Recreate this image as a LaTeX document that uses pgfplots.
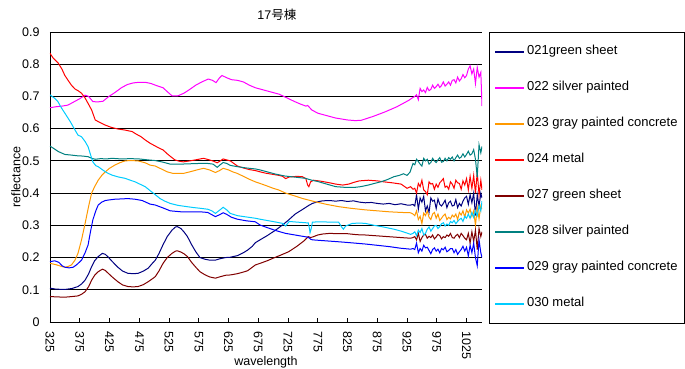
\documentclass[border=0pt]{standalone}
\usepackage{pgfplots}
\pgfplotsset{compat=1.18}
\usepackage{fontspec}
\setmainfont{Liberation Sans}
\newfontfamily\cjk{Noto Sans CJK JP}
\definecolor{cnavy}{RGB}{0,0,128}
\definecolor{cmag}{RGB}{255,0,255}
\definecolor{corange}{RGB}{255,153,0}
\definecolor{cred}{RGB}{255,0,0}
\definecolor{cdred}{RGB}{128,0,0}
\definecolor{cteal}{RGB}{0,128,128}
\definecolor{cblue}{RGB}{0,0,255}
\definecolor{ccyan}{RGB}{0,204,255}
\begin{document}
\begin{tikzpicture}
\useasboundingbox (0,0) rectangle (685pt,369pt);
\begin{axis}[
  at={(50pt,47pt)}, anchor=south west,
  scale only axis, width=432pt, height=290pt,
  xmin=325, xmax=1051, ymin=0, ymax=0.9,
  axis x line=bottom, axis y line=left,
  axis line style={-, black, line width=0.8pt},
  xtick={325,375,...,1025},
  ytick={0,0.1,0.2,0.3,0.4,0.5,0.6,0.7,0.8,0.9},
  tick align=inside,
  xtick style={black, line width=0.8pt},
  major tick length=4pt,
  ytick style={draw=none},
  ymajorgrids, grid style={black, line width=0.8pt},
  font=\fontsize{12.5}{15}\selectfont,
  /pgf/number format/assume math mode=true,
  yticklabel style={/pgf/number format/fixed, /pgf/number format/precision=1, xshift=-7pt},
  xticklabel style={rotate=-90, anchor=west, xshift=6pt, /pgf/number format/set thousands separator={}},
  title={17\cjk 号棟},
  every axis title/.style={at={(axis description cs:0.525,1.0586)}, anchor=center},
  xlabel={wavelength},
  every axis x label/.style={at={(axis description cs:0.5,-0.138)}, anchor=center},
  ylabel={reflectance},
  every axis y label/.style={at={(axis description cs:-0.0787,0.5)}, rotate=90, anchor=center},
  legend image code/.code={\draw[#1, line width=2pt, line cap=butt] (0pt,0pt) -- (29pt,0pt);},
  legend style={at={(axis description cs:1,1)}, anchor=north west, xshift=7pt, yshift=-0.5pt,
    draw=black, inner xsep=5pt, inner ysep=11.5pt,
    font=\fontsize{13}{15}\selectfont,
    cells={anchor=west}, row sep=21pt,
    nodes={inner sep=2pt, text height=8.5pt, text depth=2.5pt}},
]
% 021 green sheet
\addplot[cnavy, line width=1pt] table {
325 0.105
335 0.102
350 0.101
362 0.104
372 0.110
378 0.118
384 0.130
390 0.150
395 0.172
400 0.190
406 0.203
413 0.213
418 0.210
423 0.201
430 0.187
439 0.170
447 0.158
456 0.151
465 0.150
473 0.151
482 0.158
490 0.167
497 0.182
502 0.192
508 0.212
515 0.240
522 0.265
530 0.285
536 0.295
539 0.296
545 0.290
550 0.280
556 0.265
563 0.240
570 0.218
577 0.200
585 0.195
593 0.192
603 0.192
610 0.196
620 0.200
628 0.201
640 0.206
650 0.215
657 0.223
665 0.235
670 0.246
678 0.255
690 0.268
704 0.285
715 0.300
725 0.315
737 0.335
750 0.350
760 0.362
766 0.368
775 0.373
783 0.376
795 0.377
805 0.375
815 0.377
825 0.374
835 0.376
845 0.372
855 0.370
865 0.371
875 0.368
885 0.366
895 0.368
905 0.364
915 0.367
925 0.363
931 0.363
935 0.365
938 0.360
941 0.395
944 0.350
947 0.385
950 0.372
953 0.390
956 0.345
959 0.360
962 0.340
965 0.385
968 0.375
971 0.378
974 0.352
977 0.382
980 0.365
983 0.360
986 0.368
989 0.378
992 0.355
995 0.370
998 0.375
1001 0.360
1004 0.362
1007 0.380
1010 0.355
1013 0.368
1016 0.360
1019 0.375
1022 0.385
1025 0.390
1028 0.365
1031 0.395
1034 0.370
1037 0.400
1040 0.330
1043 0.395
1046 0.360
1049 0.400
1051 0.385
};
\addlegendentry{021green sheet}
% 022 silver painted
\addplot[cmag, line width=1pt] table {
325 0.665
335 0.668
345 0.670
355 0.673
365 0.683
375 0.693
384 0.704
390 0.700
397 0.684
405 0.683
414 0.685
424 0.700
434 0.712
445 0.727
455 0.737
465 0.742
475 0.744
485 0.744
495 0.740
505 0.733
515 0.727
522 0.715
530 0.702
540 0.702
550 0.710
560 0.722
570 0.735
580 0.745
591 0.754
598 0.750
604 0.743
610 0.758
614 0.765
622 0.758
630 0.752
640 0.750
650 0.745
660 0.735
670 0.727
680 0.722
690 0.717
700 0.712
710 0.707
718 0.700
725 0.694
735 0.685
745 0.677
755 0.670
758 0.672
760 0.668
765 0.658
775 0.648
785 0.643
795 0.638
805 0.633
815 0.630
825 0.627
838 0.625
848 0.626
858 0.632
868 0.638
878 0.645
888 0.652
898 0.660
908 0.668
918 0.678
928 0.688
935 0.697
938 0.700
941 0.705
944 0.690
947 0.725
950 0.715
953 0.720
956 0.712
959 0.728
962 0.718
965 0.722
968 0.735
971 0.725
974 0.730
977 0.738
980 0.728
983 0.734
986 0.745
989 0.732
992 0.738
995 0.745
998 0.735
1001 0.750
1004 0.752
1007 0.742
1010 0.760
1013 0.748
1016 0.755
1019 0.768
1022 0.758
1025 0.765
1028 0.785
1031 0.795
1034 0.770
1037 0.785
1040 0.740
1043 0.790
1046 0.760
1049 0.775
1051 0.670
};
\addlegendentry{022 silver painted}
% 023 gray painted concrete
\addplot[corange, line width=1pt] table {
325 0.182
335 0.178
345 0.172
350 0.170
355 0.172
361 0.177
367 0.192
372 0.213
378 0.255
384 0.306
390 0.360
395 0.400
400 0.420
406 0.440
412 0.455
418 0.466
425 0.477
434 0.487
442 0.494
451 0.500
460 0.501
473 0.500
485 0.494
493 0.487
502 0.484
512 0.475
522 0.466
532 0.461
549 0.461
560 0.466
572 0.472
583 0.477
593 0.472
603 0.464
610 0.470
616 0.477
625 0.472
632 0.466
640 0.461
650 0.452
660 0.443
670 0.435
678 0.430
690 0.422
700 0.415
709 0.410
721 0.400
735 0.392
750 0.383
771 0.373
790 0.365
810 0.358
830 0.353
855 0.348
875 0.345
895 0.342
915 0.340
931 0.339
935 0.335
938 0.330
941 0.345
944 0.318
947 0.328
950 0.305
953 0.338
956 0.330
959 0.345
962 0.325
965 0.318
968 0.335
971 0.340
974 0.322
977 0.335
980 0.315
983 0.322
986 0.330
989 0.335
992 0.318
995 0.325
998 0.320
1001 0.332
1004 0.326
1007 0.335
1010 0.318
1013 0.340
1016 0.332
1019 0.345
1022 0.325
1025 0.348
1028 0.338
1031 0.350
1034 0.328
1037 0.345
1040 0.300
1043 0.355
1046 0.320
1049 0.360
1051 0.350
};
\addlegendentry{023 gray painted concrete}
% 024 metal
\addplot[cred, line width=1pt] table {
325 0.834
330 0.820
339 0.803
345 0.785
350 0.765
355 0.751
361 0.735
367 0.723
372 0.718
378 0.710
384 0.695
390 0.675
395 0.658
401 0.627
408 0.620
418 0.611
428 0.604
439 0.599
450 0.596
463 0.591
470 0.583
478 0.575
485 0.565
493 0.555
502 0.546
508 0.540
515 0.534
522 0.522
530 0.510
535 0.503
542 0.499
549 0.497
560 0.500
572 0.504
583 0.508
593 0.503
600 0.499
606 0.494
611 0.500
616 0.506
622 0.503
628 0.500
634 0.492
640 0.484
650 0.478
660 0.473
670 0.470
678 0.466
687 0.462
700 0.458
710 0.455
716 0.452
721 0.445
727 0.450
740 0.452
749 0.451
755 0.445
758 0.425
760 0.420
763 0.435
768 0.440
780 0.437
795 0.432
805 0.428
817 0.425
827 0.428
835 0.433
845 0.438
860 0.440
875 0.438
886 0.435
900 0.432
915 0.428
925 0.415
931 0.420
935 0.412
938 0.415
941 0.400
944 0.430
947 0.420
950 0.440
953 0.410
956 0.405
959 0.395
962 0.435
965 0.428
968 0.430
971 0.412
974 0.428
977 0.418
980 0.432
983 0.438
986 0.445
989 0.418
992 0.422
995 0.412
998 0.435
1001 0.428
1004 0.415
1007 0.440
1010 0.432
1013 0.430
1016 0.412
1019 0.438
1022 0.425
1025 0.445
1028 0.410
1031 0.452
1034 0.415
1037 0.455
1040 0.400
1043 0.465
1046 0.395
1049 0.440
1051 0.410
};
\addlegendentry{024 metal}
% 027 green sheet
\addplot[cdred, line width=1pt] table {
325 0.079
335 0.078
350 0.077
362 0.079
372 0.081
378 0.086
384 0.094
390 0.110
395 0.130
400 0.145
406 0.156
413 0.164
418 0.160
423 0.151
430 0.139
439 0.125
447 0.115
456 0.110
465 0.109
473 0.110
482 0.116
490 0.125
497 0.134
502 0.141
508 0.158
515 0.182
522 0.200
530 0.213
536 0.220
539 0.221
545 0.217
550 0.212
556 0.203
563 0.185
570 0.170
577 0.156
585 0.147
593 0.140
603 0.136
610 0.140
620 0.145
628 0.146
640 0.150
650 0.155
657 0.159
665 0.170
670 0.177
678 0.182
690 0.190
700 0.198
712 0.207
726 0.218
740 0.235
752 0.252
759 0.265
763 0.262
768 0.265
775 0.270
783 0.273
795 0.275
810 0.274
825 0.274
840 0.271
855 0.270
870 0.268
885 0.266
900 0.264
915 0.262
931 0.260
935 0.262
938 0.265
941 0.255
944 0.275
947 0.250
950 0.262
953 0.270
956 0.272
959 0.260
962 0.266
965 0.262
968 0.270
971 0.258
974 0.264
977 0.272
980 0.268
983 0.258
986 0.265
989 0.262
992 0.270
995 0.266
998 0.275
1001 0.262
1004 0.260
1007 0.268
1010 0.272
1013 0.262
1016 0.275
1019 0.268
1022 0.260
1025 0.255
1028 0.275
1031 0.245
1034 0.280
1037 0.250
1040 0.285
1043 0.225
1046 0.290
1049 0.265
1051 0.280
};
\addlegendentry{027 green sheet}
% 028 silver painted
\addplot[cteal, line width=1pt] table {
325 0.546
330 0.540
339 0.529
345 0.524
350 0.520
361 0.518
370 0.516
380 0.515
389 0.513
395 0.508
401 0.505
410 0.507
420 0.506
429 0.508
445 0.506
460 0.507
475 0.506
490 0.503
502 0.501
515 0.496
527 0.490
545 0.490
560 0.491
575 0.492
590 0.492
599 0.490
606 0.480
611 0.488
616 0.495
622 0.492
628 0.486
640 0.482
655 0.478
670 0.475
678 0.472
690 0.466
704 0.459
720 0.453
735 0.450
754 0.446
765 0.440
775 0.436
790 0.428
805 0.420
820 0.418
838 0.418
847 0.420
860 0.425
870 0.430
881 0.435
892 0.442
903 0.451
912 0.455
919 0.460
925 0.455
930 0.465
935 0.492
938 0.488
941 0.505
944 0.498
947 0.490
950 0.484
953 0.508
956 0.500
959 0.505
962 0.490
965 0.495
968 0.508
971 0.500
974 0.495
977 0.503
980 0.510
983 0.496
986 0.498
989 0.508
992 0.500
995 0.510
998 0.505
1001 0.512
1004 0.500
1007 0.510
1010 0.518
1013 0.508
1016 0.512
1019 0.522
1022 0.512
1025 0.520
1028 0.530
1031 0.518
1034 0.522
1037 0.535
1040 0.505
1043 0.450
1046 0.550
1049 0.525
1051 0.545
};
\addlegendentry{028 silver painted}
% 029 gray painted concrete
\addplot[cblue, line width=1pt] table {
325 0.187
333 0.190
340 0.185
345 0.175
350 0.170
357 0.168
364 0.170
370 0.178
378 0.192
384 0.215
389 0.239
393 0.280
397 0.317
402 0.345
406 0.363
412 0.372
418 0.377
425 0.379
434 0.381
445 0.382
456 0.383
468 0.381
480 0.377
493 0.366
502 0.363
515 0.354
527 0.345
545 0.342
560 0.342
577 0.342
590 0.340
597 0.333
603 0.327
610 0.333
616 0.339
622 0.334
630 0.325
640 0.319
655 0.314
670 0.311
678 0.301
690 0.293
704 0.284
721 0.275
740 0.269
759 0.263
763 0.257
766 0.255
780 0.253
795 0.251
810 0.249
830 0.246
855 0.242
875 0.238
895 0.234
914 0.229
931 0.226
935 0.228
938 0.225
941 0.245
944 0.215
947 0.228
950 0.220
953 0.238
956 0.230
959 0.232
962 0.222
965 0.212
968 0.225
971 0.230
974 0.220
977 0.226
980 0.215
983 0.228
986 0.224
989 0.232
992 0.218
995 0.222
998 0.228
1001 0.228
1004 0.215
1007 0.225
1010 0.210
1013 0.218
1016 0.225
1019 0.235
1022 0.220
1025 0.232
1028 0.205
1031 0.238
1034 0.215
1037 0.245
1040 0.200
1043 0.175
1046 0.255
1049 0.215
1051 0.200
};
\addlegendentry{029 gray painted concrete}
% 030 metal
\addplot[ccyan, line width=1pt] table {
325 0.705
333 0.694
338 0.685
343 0.668
350 0.648
359 0.622
367 0.596
372 0.580
378 0.575
384 0.560
389 0.544
393 0.520
397 0.497
402 0.485
406 0.482
415 0.470
422 0.462
429 0.456
440 0.450
451 0.446
460 0.440
468 0.435
477 0.427
485 0.420
493 0.408
502 0.395
510 0.383
518 0.375
527 0.368
540 0.362
555 0.358
567 0.355
577 0.353
590 0.350
597 0.345
603 0.337
610 0.347
616 0.356
622 0.348
628 0.337
640 0.330
655 0.326
670 0.322
678 0.319
690 0.315
705 0.310
716 0.306
721 0.298
727 0.312
740 0.310
755 0.308
759 0.308
761 0.290
762 0.277
764 0.290
766 0.310
780 0.311
795 0.310
810 0.310
815 0.295
818 0.288
822 0.298
833 0.306
845 0.307
855 0.306
870 0.300
885 0.295
903 0.288
915 0.282
925 0.276
931 0.272
935 0.275
938 0.280
941 0.268
944 0.285
947 0.278
950 0.290
953 0.270
956 0.275
959 0.288
962 0.295
965 0.282
968 0.290
971 0.298
974 0.300
977 0.290
980 0.296
983 0.305
986 0.308
989 0.298
992 0.304
995 0.300
998 0.312
1001 0.308
1004 0.315
1007 0.305
1010 0.312
1013 0.318
1016 0.322
1019 0.312
1022 0.328
1025 0.322
1028 0.335
1031 0.322
1034 0.340
1037 0.325
1040 0.345
1043 0.330
1046 0.360
1049 0.345
1051 0.375
};
\addlegendentry{030 metal}
\end{axis}
\end{tikzpicture}
\end{document}
